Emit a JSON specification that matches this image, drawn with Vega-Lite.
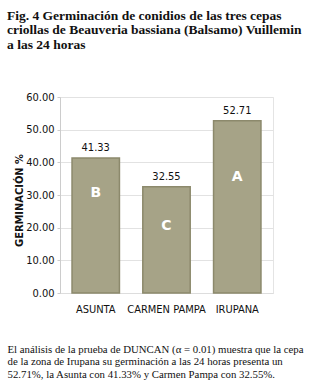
{
  "$schema": "https://vega.github.io/schema/vega-lite/v6.json",
  "width": 213,
  "height": 196,
  "autosize": {"type": "none"},
  "padding": {"left": 60, "top": 97, "right": 38, "bottom": 91},
  "background": "white",
  "config": {"view": {"stroke": "#e4e4e4"}},
  "title": {
    "text": ["Fig. 4 Germinación de conidios de las tres cepas", "criollas de Beauveria bassiana (Balsamo) Vuillemin", "a las 24 horas"],
    "anchor": "start",
    "frame": "group",
    "dx": -53,
    "offset": 40,
    "font": "Liberation Serif",
    "fontSize": 13.5,
    "fontWeight": "bold",
    "lineHeight": 14.5,
    "color": "#111"
  },
  "data": {
    "values": [
      {"cepa": "ASUNTA", "germinacion": 41.33, "letra": "B", "letra_y": 30.5},
      {"cepa": "CARMEN PAMPA", "germinacion": 32.55, "letra": "C", "letra_y": 20.5},
      {"cepa": "IRUPANA", "germinacion": 52.71, "letra": "A", "letra_y": 35.5}
    ]
  },
  "resolve": {"axis": {"y": "independent"}},
  "encoding": {
    "x": {
      "field": "cepa",
      "type": "nominal",
      "sort": null,
      "scale": {"paddingInner": 0.33, "paddingOuter": 0.17},
      "axis": {
        "labelAngle": 0,
        "labelOverlap": false,
        "labelFont": "DejaVu Sans Condensed",
        "labelFontSize": 11,
        "labelColor": "#111",
        "labelPadding": 10,
        "ticks": false,
        "domainColor": "#dddddd",
        "title": ["El análisis de la prueba de DUNCAN (α = 0.01) muestra que la cepa", "de la zona de Irupana su germinación a las 24 horas presenta un", "52.71%, la Asunta con 41.33% y Carmen Pampa con 32.55%."],
        "titleFont": "Liberation Serif",
        "titleFontSize": 10.8,
        "titleFontWeight": "normal",
        "titleColor": "#111",
        "titleAlign": "left",
        "titleAnchor": "start",
        "titleBaseline": "alphabetic",
        "titleX": -53,
        "titleY": 59,
        "titleLineHeight": 12.5
      }
    }
  },
  "layer": [
    {
      "mark": {"type": "bar", "color": "#a6a387", "stroke": "#8c896c", "strokeWidth": 1.5},
      "encoding": {
        "y": {
          "field": "germinacion",
          "type": "quantitative",
          "scale": {"domain": [0, 60]},
          "axis": {
            "values": [0, 10, 20, 30, 40, 50, 60],
            "format": ".2f",
            "labelOverlap": false,
            "labelFont": "DejaVu Sans Condensed",
            "labelFontSize": 11,
            "labelColor": "#111",
            "labelPadding": 3,
            "tickSize": 3,
            "tickColor": "#cccccc",
            "domainColor": "#cccccc",
            "gridColor": "#e2e2e2",
            "title": "GERMINACIÓN %",
            "titleFont": "DejaVu Sans Condensed",
            "titleFontSize": 11,
            "titleFontWeight": "bold",
            "titleColor": "#111",
            "titleX": -41,
            "titleY": 103,
            "titleBaseline": "middle"
          }
        }
      }
    },
    {
      "mark": {"type": "text", "baseline": "alphabetic", "dy": -7, "font": "DejaVu Sans Condensed", "fontSize": 11, "color": "#111"},
      "encoding": {
        "y": {"field": "germinacion", "type": "quantitative", "axis": null},
        "text": {"field": "germinacion", "type": "quantitative", "format": ".2f"}
      }
    },
    {
      "mark": {"type": "text", "baseline": "middle", "font": "DejaVu Sans", "fontSize": 14, "fontWeight": "bold", "color": "white"},
      "encoding": {
        "y": {"field": "letra_y", "type": "quantitative", "axis": null},
        "text": {"field": "letra"}
      }
    }
  ]
}
